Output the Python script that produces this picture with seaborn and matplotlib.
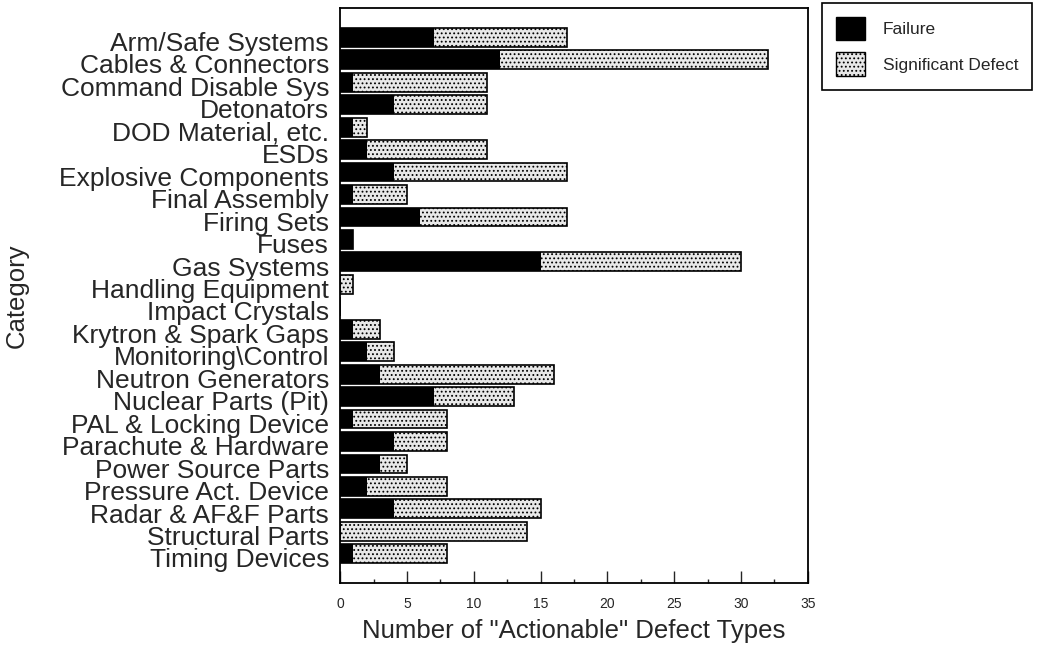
import matplotlib
matplotlib.use('Agg')
import matplotlib.pyplot as plt
import matplotlib.patches as mpatches
from matplotlib.ticker import MultipleLocator
from matplotlib.transforms import ScaledTranslation
import pandas as pd
import seaborn as sns

# Defect counts per category
categories = [
    'Arm/Safe Systems', 'Cables & Connectors', 'Command Disable Sys', 'Detonators',
    'DOD Material, etc.', 'ESDs', 'Explosive Components', 'Final Assembly',
    'Firing Sets', 'Fuses', 'Gas Systems', 'Handling Equipment', 'Impact Crystals',
    'Krytron & Spark Gaps', 'Monitoring\\Control', 'Neutron Generators',
    'Nuclear Parts (Pit)', 'PAL & Locking Device', 'Parachute & Hardware',
    'Power Source Parts', 'Pressure Act. Device', 'Radar & AF&F Parts',
    'Structural Parts', 'Timing Devices',
]
failure = [7, 12, 1, 4, 1, 2, 4, 1, 6, 1, 15, 0, 0, 1, 2, 3, 7, 1, 4, 3, 2, 4, 0, 1]
sig_defect = [10, 20, 10, 7, 1, 9, 13, 4, 11, 0, 15, 1, 0, 2, 2, 13, 6, 7, 4, 2, 6, 11, 14, 7]

x_ticks = [0, 5, 10, 15, 20, 25, 30, 35]

sns.set_style('ticks')
plt.rcParams['font.family'] = ['Liberation Sans', 'DejaVu Sans']
plt.rcParams['hatch.linewidth'] = 0.8

df = pd.DataFrame({'category': categories, 'failure': failure, 'defect': sig_defect})
df['total'] = df['failure'] + df['defect']

fig = plt.figure(figsize=(10.37, 6.46), dpi=100)
ax = fig.add_axes([0.328, 0.0975, 0.451, 0.890])

defect_color = '#e8e8e8'
# stacked bars: full length drawn stippled, failure part drawn black on top
sns.barplot(data=df, x='total', y='category', orient='h', color=defect_color,
            saturation=1, width=0.84, errorbar=None, edgecolor='black',
            linewidth=1.2, hatch='....', ax=ax)
sns.barplot(data=df, x='failure', y='category', orient='h', color='black',
            saturation=1, width=0.84, errorbar=None, linewidth=0, ax=ax)

ax.set_xlim(0, 35)
ax.set_ylim(len(categories) - 1 + 1.3, -1.3)
ax.set_xticks(x_ticks)
ax.set_xticklabels([str(t) for t in x_ticks])
ax.xaxis.set_minor_locator(MultipleLocator(2.5))
ax.tick_params(axis='x', which='major', direction='in', length=9, width=1,
               labelsize=10, pad=10)
ax.tick_params(axis='x', which='minor', direction='in', length=3, width=1)
ax.tick_params(axis='y', length=0, pad=8, labelsize=19)
for sp in ax.spines.values():
    sp.set_visible(True)
    sp.set_color('black')
    sp.set_linewidth(1.3)

ax.set_xlabel('Number of "Actionable" Defect Types', fontsize=18.5)
ax.xaxis.set_label_coords(0.5, -0.062)
ax.set_ylabel('Category', fontsize=18.5)
ax.yaxis.set_label_coords(-0.665, 0.5)

# labels sit a little lower than the bar centres in the original
offset = ScaledTranslation(0, -3 / 72, fig.dpi_scale_trans)
for lbl in ax.get_yticklabels():
    lbl.set_transform(lbl.get_transform() + offset)

handles = [
    mpatches.Patch(facecolor='black', edgecolor='black', label='Failure'),
    mpatches.Patch(facecolor=defect_color, edgecolor='black', hatch='....',
                   label='Significant Defect'),
]
leg = fig.legend(handles=handles, loc='upper left',
                 bbox_to_anchor=(822 / 1037, 1 - 3 / 646), frameon=True,
                 fancybox=False, framealpha=1, edgecolor='black', fontsize=12.5,
                 handlelength=1.7, handleheight=1.7, handletextpad=1.0,
                 labelspacing=0.7, borderpad=0.8, borderaxespad=0)
leg.get_frame().set_linewidth(1.2)

fig.savefig('out.png', dpi=100)
